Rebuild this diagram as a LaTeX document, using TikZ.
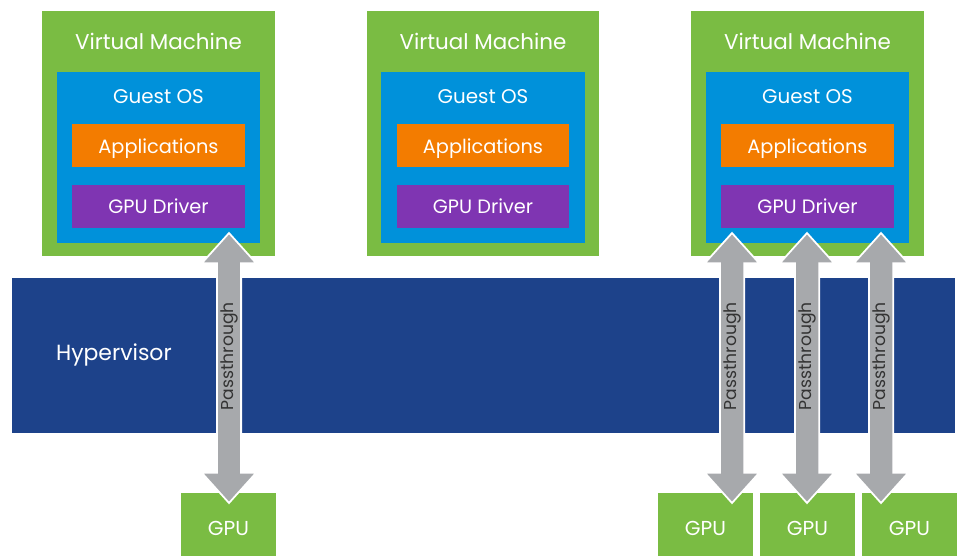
\documentclass[tikz,border=0pt]{standalone}
\usepackage{fontspec}
\setmainfont{Poppins}
\usetikzlibrary{positioning,calc,shapes.arrows}
\definecolor{vmgreen}{HTML}{7ABC43}
\definecolor{osblue}{HTML}{0091DA}
\definecolor{apporange}{HTML}{F37C00}
\definecolor{drvpurple}{HTML}{7F35B2}
\definecolor{hvblue}{HTML}{1D428A}
\definecolor{pgray}{HTML}{A7A9AC}
\definecolor{ptext}{HTML}{333333}
\tikzset{
  vmbox/.style   = {rectangle, fill=vmgreen, minimum width=4.66cm, minimum height=4.9cm, inner sep=0pt},
  osbox/.style   = {rectangle, fill=osblue, minimum width=4.08cm, minimum height=3.42cm, inner sep=0pt},
  appbox/.style  = {rectangle, fill=apporange, text=white, minimum width=3.46cm, minimum height=0.86cm, inner sep=0pt, text depth=0pt, font=\fontsize{11}{13}\selectfont},
  drvbox/.style  = {appbox, fill=drvpurple},
  hvbox/.style   = {rectangle, fill=hvblue, minimum width=18.86cm, minimum height=3.1cm, inner sep=0pt},
  gpubox/.style  = {rectangle, fill=vmgreen, text=white, minimum width=1.9cm, minimum height=1.26cm, inner sep=0pt, text height=12.5pt, text depth=0pt, font=\fontsize{11.5}{13}\selectfont},
  vmtitle/.style = {text=white, inner sep=0pt, font=\fontsize{12.2}{14}\selectfont},
  ostitle/.style = {text=white, inner sep=0pt, font=\fontsize{11.3}{13}\selectfont},
  passarrow/.style = {double arrow, fill=pgray, draw=white, line width=1pt, rotate=90,
      minimum height=5.4cm, double arrow head extend=0.3cm, double arrow tip angle=84,
      inner xsep=0pt, inner ysep=1.5pt, text height=7.5pt, text depth=2.3pt,
      text=ptext, font=\fontsize{9.8}{11}\selectfont}
}
\begin{document}
\begin{tikzpicture}[x=0.02cm, y=-0.02cm]
  \useasboundingbox (0,0) rectangle (963,556);
  %Hypervisor layer
  \node (hyper) [hvbox] at (483.5,355) {};
  \node (hvlabel) [vmtitle, font=\fontsize{12.5}{14}\selectfont, right=0.88cm of hyper.west] {Hypervisor};
  %Virtual machines
  \node (vm1) [vmbox] at (158.5,133.5) {};
  \node (vm2) [vmbox] at (483,133.5) {};
  \node (vm3) [vmbox] at (807.5,133.5) {};
  \foreach \v in {1,2,3} {
    \node (os\v)  [osbox, above=0.26cm of vm\v.south] {};
    \node (drv\v) [drvbox, above=0.3cm of os\v.south] {GPU Driver};
    \node (app\v) [appbox, above=0.34cm of drv\v] {Applications};
    \node (vmt\v) [vmtitle] at ($(vm\v.north)+(0,31)$) {Virtual Machine};
    \node (ost\v) [ostitle] at ($(os\v.north)+(0,25)$) {Guest OS};
  }
  %GPUs
  \node (gpu1) [gpubox] at (228.5,524.5) {GPU};
  \node (gpu2) [gpubox] at (705.5,524.5) {GPU};
  \node (gpu3) [gpubox] at (807.5,524.5) {GPU};
  \node (gpu4) [gpubox] at (909.5,524.5) {GPU};
  %Passthrough arrows
  \node (pass1) [passarrow] at (229,368) {\hspace*{0.48cm}Passthrough};
  \node (pass2) [passarrow] at (732,368) {\hspace*{0.48cm}Passthrough};
  \node (pass3) [passarrow] at (807,368) {\hspace*{0.48cm}Passthrough};
  \node (pass4) [passarrow] at (881,368) {\hspace*{0.48cm}Passthrough};
\end{tikzpicture}
\end{document}
